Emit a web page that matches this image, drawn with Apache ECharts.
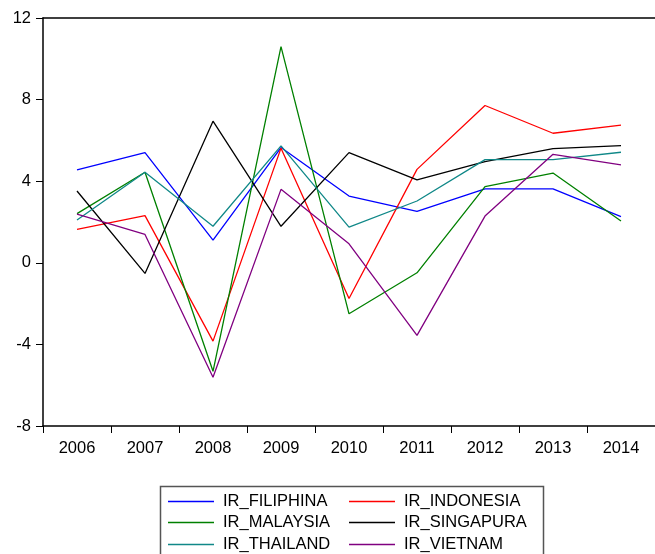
<!DOCTYPE html>
<html>
<head>
<meta charset="utf-8">
<script src="https://cdn.jsdelivr.net/npm/echarts@6/dist/echarts.min.js"></script>
<style>
html,body{margin:0;padding:0;background:#fff;}
#chart{width:655px;height:554px;}
</style>
</head>
<body>
<div id="chart"></div>
<script>
var years = ['2006','2007','2008','2009','2010','2011','2012','2013','2014'];
var yTicks = [-8, -4, 0, 4, 8, 12];

var irFilipina  = [4.55, 5.40, 1.11, 5.65, 3.27, 2.52, 3.62, 3.62, 2.26];
var irIndonesia = [1.64, 2.31, -3.84, 5.62, -1.75, 4.58, 7.71, 6.35, 6.75];
var irMalaysia  = [2.41, 4.44, -5.32, 10.60, -2.50, -0.49, 3.73, 4.40, 2.05];
var irSingapura = [3.52, -0.52, 6.94, 1.79, 5.40, 4.06, 4.96, 5.60, 5.74];
var irThailand  = [2.10, 4.44, 1.79, 5.73, 1.75, 3.03, 5.06, 5.06, 5.42];
var irVietnam   = [2.38, 1.39, -5.61, 3.60, 0.93, -3.56, 2.29, 5.32, 4.80];

var seriesNames = ['IR_FILIPHINA','IR_INDONESIA','IR_MALAYSIA','IR_SINGAPURA','IR_THAILAND','IR_VIETNAM'];
var seriesData = [irFilipina, irIndonesia, irMalaysia, irSingapura, irThailand, irVietnam];
var seriesColors = ['#0000ff','#ff0000','#008000','#000000','#108888','#800080'];

var font = '"Liberation Sans", Arial, sans-serif';

var chart = echarts.init(document.getElementById('chart'));

var series = seriesNames.map(function(n, i){
  return {
    name: n, type: 'line', data: seriesData[i],
    xAxisIndex: 0, yAxisIndex: 0,
    showSymbol: false, symbol: 'none', animation: false,
    lineStyle: {color: seriesColors[i], width: 1.3},
    itemStyle: {color: seriesColors[i]}
  };
});

var legendPos = [
  {left: 168, top: 493}, {left: 349, top: 493},
  {left: 168, top: 514}, {left: 349, top: 514},
  {left: 168, top: 536}, {left: 349, top: 536}
];
var legends = seriesNames.map(function(n, i){
  return {
    data: [n], left: legendPos[i].left, top: legendPos[i].top,
    orient: 'horizontal', padding: 0,
    icon: 'rect', itemWidth: 46, itemHeight: 1.5,
    selectedMode: false,
    textStyle: {fontFamily: font, fontSize: 16.5, color: '#000', padding: [0,0,0,4]}
  };
});

chart.setOption({
  animation: false,
  backgroundColor: '#fff',
  grid: {left: 43, top: 18, right: 0, bottom: 128, containLabel: false},
  xAxis: [{
    type: 'category', data: years, position: 'bottom',
    boundaryGap: true,
    axisLine: {show: true, onZero: false, lineStyle: {color: '#000', width: 1.5}},
    axisTick: {show: true, length: 7, lineStyle: {color: '#000', width: 1}},
    axisLabel: {fontFamily: font, fontSize: 16.5, color: '#000', margin: 14},
    splitLine: {show: false}
  },{
    type: 'category', data: years, position: 'top',
    axisLine: {show: true, onZero: false, lineStyle: {color: '#000', width: 1.5}},
    axisTick: {show: false}, axisLabel: {show: false}, splitLine: {show: false}
  }],
  yAxis: {
    type: 'value', min: yTicks[0], max: yTicks[yTicks.length-1], interval: 4,
    axisLine: {show: true, onZero: false, lineStyle: {color: '#000', width: 1.5}},
    axisTick: {show: true, length: 7, lineStyle: {color: '#000', width: 1}},
    axisLabel: {fontFamily: font, fontSize: 16.5, color: '#000', margin: 12},
    splitLine: {show: false}
  },
  legend: legends,
  graphic: [{
    type: 'rect', left: 158, top: 484,
    shape: {width: 383, height: 80},
    style: {fill: 'none', stroke: '#555', lineWidth: 1.5},
    silent: true, z: 0
  }],
  series: series
});
</script>
</body>
</html>
